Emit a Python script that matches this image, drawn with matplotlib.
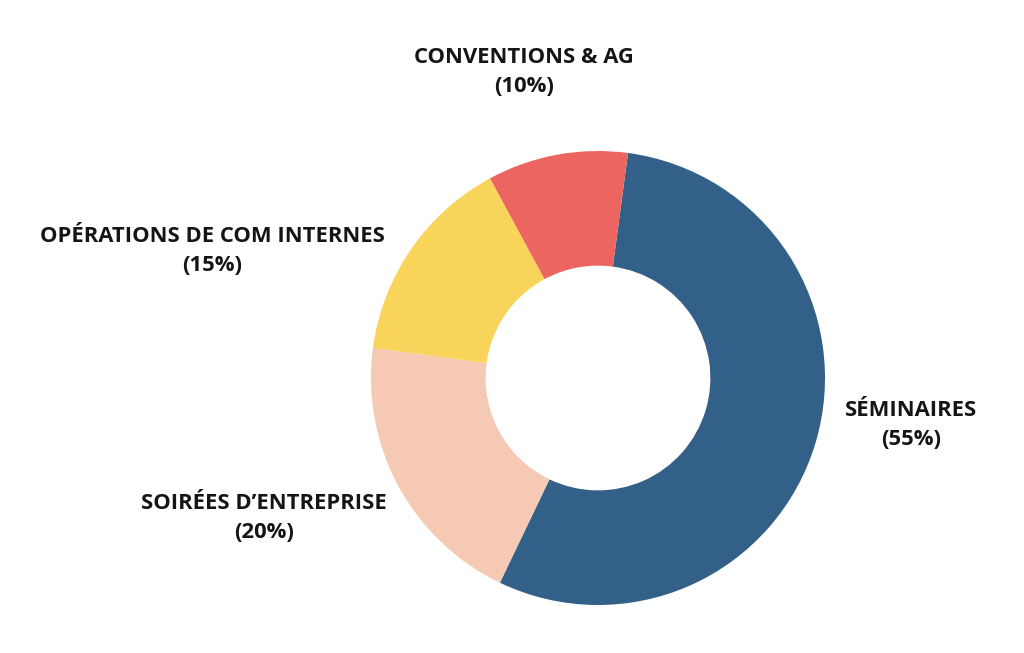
import matplotlib
matplotlib.use('Agg')
import matplotlib.pyplot as plt

# Data (clockwise from the top)
categories = ['SÉMINAIRES', "SOIRÉES D’ENTREPRISE", 'OPÉRATIONS DE COM INTERNES', 'CONVENTIONS & AG']
shares = [55, 20, 15, 10]
colors = ['#336088', '#F5C9B3', '#F9D45B', '#EC6560']

# Label anchor points in pixel coords (x, y from top)
label_pos = [(911, 425), (264, 518), (212, 251), (524, 72)]

W, H = 1024, 653
fig = plt.figure(figsize=(W / 100, H / 100), dpi=100)
ax = fig.add_axes([0, 0, 1, 1])
ax.set_xlim(0, W)
ax.set_ylim(0, H)
ax.axis('off')

cx, cy, r = 598, H - 378, 227
ax.pie(shares, colors=colors, startangle=82.4, counterclock=False,
       center=(cx, cy), radius=r,
       wedgeprops=dict(width=r * 0.505, linewidth=0))
ax.set_xlim(0, W)
ax.set_ylim(0, H)
ax.set_aspect('auto')

for name, val, (x, y) in zip(categories, shares, label_pos):
    ax.text(x, H - y, f'{name}\n({val}%)', ha='center', va='center',
            fontsize=15.8, fontweight='bold', family='Open Sans',
            color='#151515', linespacing=1.5)

fig.savefig('out.png', dpi=100, facecolor='white')
